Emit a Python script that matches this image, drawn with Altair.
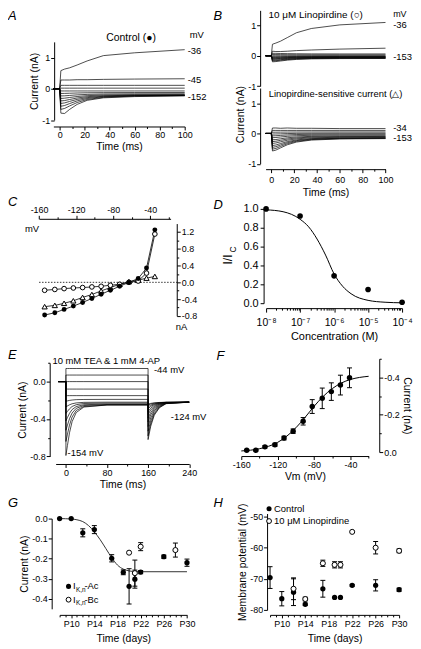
import altair as alt
import pandas as pd

FONT = "Liberation Sans"
ONE = pd.DataFrame({"k": [0]})

# ---------------- Panel A: control traces ----------------
A_PRE_T = [-5, 0]
A_T = [1, 4, 8, 14, 22, 35, 60, 100]
A_V = [-36, -45, -52, -62, -72, -82, -92, -102, -112, -122, -132, -142, -152]
A_I = [
    [0.58, 0.63, 0.67, 0.76, 0.89, 1.06, 1.15, 1.25],
    [0.28, 0.28, 0.28, 0.29, 0.29, 0.30, 0.31, 0.32],
    [0.11, 0.11, 0.11, 0.11, 0.11, 0.11, 0.11, 0.11],
    [0.02, 0.02, 0.02, 0.02, 0.02, 0.02, 0.02, 0.02],
    [-0.07, -0.07, -0.07, -0.07, -0.07, -0.07, -0.07, -0.07],
    [-0.15, -0.148, -0.143, -0.135, -0.128, -0.124, -0.121, -0.12],
    [-0.23, -0.225, -0.213, -0.195, -0.18, -0.168, -0.162, -0.16],
    [-0.31, -0.301, -0.279, -0.248, -0.22, -0.20, -0.189, -0.185],
    [-0.39, -0.377, -0.343, -0.295, -0.253, -0.223, -0.206, -0.20],
    [-0.47, -0.452, -0.405, -0.34, -0.283, -0.241, -0.218, -0.21],
    [-0.56, -0.536, -0.474, -0.388, -0.312, -0.256, -0.225, -0.215],
    [-0.66, -0.629, -0.55, -0.44, -0.343, -0.273, -0.233, -0.22],
    [-0.78, -0.79, -0.66, -0.50, -0.37, -0.29, -0.25, -0.225],
]

# ---------------- Panel B: linopirdine & difference traces ----------------
B_PRE_T = [-5, 0]
B_T = [1, 4, 8, 14, 22, 35, 60, 100]
B_TOP_V = [-36, -45, -52, -62, -72, -82, -92, -102, -112, -122, -132, -142, -153]
B_TOP_I = [
    [0.38, 0.42, 0.48, 0.60, 0.76, 0.90, 1.02, 1.10],
    [0.15, 0.14, 0.14, 0.15, 0.17, 0.19, 0.22, 0.25],
    [0.08, 0.08, 0.075, 0.07, 0.066, 0.062, 0.06, 0.06],
    [0.04, 0.04, 0.038, 0.035, 0.033, 0.031, 0.03, 0.03],
    [0.0, 0.0, 0.0, 0.0, 0.0, 0.0, 0.0, 0.0],
    [-0.03, -0.029, -0.028, -0.025, -0.023, -0.021, -0.02, -0.02],
    [-0.06, -0.058, -0.053, -0.045, -0.038, -0.034, -0.031, -0.03],
    [-0.08, -0.077, -0.07, -0.06, -0.051, -0.045, -0.041, -0.04],
    [-0.10, -0.097, -0.088, -0.075, -0.064, -0.056, -0.052, -0.05],
    [-0.12, -0.116, -0.105, -0.09, -0.077, -0.067, -0.062, -0.06],
    [-0.15, -0.144, -0.13, -0.11, -0.092, -0.08, -0.072, -0.07],
    [-0.17, -0.164, -0.148, -0.125, -0.105, -0.091, -0.083, -0.08],
    [-0.20, -0.192, -0.173, -0.145, -0.121, -0.103, -0.093, -0.09],
]
B_BOT_V = [-34, -45, -52, -62, -72, -82, -92, -102, -112, -122, -132, -142, -153]
B_BOT_I = [
    [0.18, 0.18, 0.17, 0.18, 0.17, 0.17, 0.16, 0.16],
    [0.10, 0.10, 0.10, 0.10, 0.10, 0.10, 0.10, 0.10],
    [0.04, 0.041, 0.043, 0.045, 0.047, 0.049, 0.05, 0.05],
    [-0.02, -0.018, -0.013, -0.005, 0.002, 0.006, 0.009, 0.01],
    [-0.08, -0.076, -0.065, -0.05, -0.037, -0.027, -0.022, -0.02],
    [-0.14, -0.134, -0.118, -0.095, -0.075, -0.061, -0.053, -0.05],
    [-0.21, -0.201, -0.178, -0.145, -0.116, -0.096, -0.084, -0.08],
    [-0.27, -0.258, -0.228, -0.185, -0.148, -0.12, -0.105, -0.10],
    [-0.33, -0.315, -0.278, -0.225, -0.179, -0.145, -0.126, -0.12],
    [-0.40, -0.382, -0.335, -0.27, -0.213, -0.171, -0.148, -0.14],
    [-0.46, -0.438, -0.383, -0.305, -0.237, -0.187, -0.159, -0.15],
    [-0.52, -0.495, -0.43, -0.34, -0.261, -0.203, -0.171, -0.16],
    [-0.58, -0.551, -0.478, -0.375, -0.285, -0.219, -0.182, -0.17],
]

# ---------------- Panel C: I-V ----------------
C_V = [-154, -143, -133, -123, -113, -103, -93, -83, -73, -63, -53, -44, -35]
C_CTRL = [-0.78, -0.725, -0.646, -0.567, -0.48, -0.385, -0.284, -0.189, -0.095, 0.0, 0.09, 0.34, 1.25]
C_LINO = [-0.19, -0.17, -0.15, -0.135, -0.125, -0.11, -0.095, -0.07, -0.047, 0.0, 0.03, 0.22, 1.15]
C_SENS = [-0.58, -0.55, -0.50, -0.44, -0.36, -0.29, -0.205, -0.125, -0.047, 0.016, 0.05, 0.10, 0.14]
C_ZERO_X = [-160, -11]

# ---------------- Panel D: dose response ----------------
D_C = [1e-8, 1e-7, 1e-6, 1e-5, 1e-4]
D_R = [1.0, 0.925, 0.29, 0.145, 0.01]
D_FIT_C = [1e-8, 3.16e-8, 1e-7, 1.78e-7, 3.16e-7, 5.62e-7, 1e-6, 1.78e-6, 3.16e-6, 1e-5, 3.16e-5, 1e-4]
D_FIT_R = [0.99, 0.97, 0.89, 0.81, 0.68, 0.51, 0.31, 0.18, 0.10, 0.03, 0.01, 0.004]

# ---------------- Panel E: TEA / 4-AP traces ----------------
E_PRE_T = [-15, 0]
E_STEP_T = [0, 3, 7, 12, 20, 35, 80, 160]
E_TAIL_T = [160, 165, 172, 182, 195, 240]
E_V = [-44, -54, -64, -74, -84, -94, -104, -114, -124, -134, -144, -154]
E_STEP = [
    [0.14, 0.14, 0.14, 0.14, 0.14, 0.14, 0.14, 0.14],
    [0.07, 0.07, 0.07, 0.07, 0.07, 0.07, 0.07, 0.07],
    [0.0, 0.0, 0.0, 0.0, 0.0, 0.0, 0.0, 0.0],
    [-0.08, -0.08, -0.08, -0.08, -0.08, -0.08, -0.08, -0.08],
    [-0.15, -0.15, -0.15, -0.15, -0.15, -0.15, -0.15, -0.15],
    [-0.21, -0.206, -0.201, -0.197, -0.193, -0.191, -0.19, -0.19],
    [-0.27, -0.26, -0.248, -0.237, -0.228, -0.222, -0.22, -0.22],
    [-0.34, -0.318, -0.291, -0.266, -0.247, -0.234, -0.23, -0.23],
    [-0.42, -0.384, -0.339, -0.299, -0.267, -0.247, -0.24, -0.24],
    [-0.52, -0.465, -0.396, -0.336, -0.286, -0.256, -0.245, -0.245],
    [-0.64, -0.562, -0.465, -0.379, -0.309, -0.266, -0.25, -0.25],
    [-0.79, -0.682, -0.547, -0.428, -0.331, -0.272, -0.25, -0.25],
]
E_TAIL = [
    [-0.62, -0.48, -0.36, -0.28, -0.236, -0.22],
    [-0.58, -0.454, -0.346, -0.274, -0.234, -0.22],
    [-0.53, -0.422, -0.329, -0.267, -0.232, -0.22],
    [-0.48, -0.389, -0.311, -0.259, -0.23, -0.22],
    [-0.43, -0.357, -0.294, -0.252, -0.228, -0.22],
    [-0.39, -0.331, -0.28, -0.246, -0.227, -0.22],
    [-0.35, -0.305, -0.266, -0.24, -0.225, -0.22],
    [-0.32, -0.285, -0.255, -0.235, -0.224, -0.22],
    [-0.29, -0.266, -0.245, -0.231, -0.223, -0.22],
    [-0.27, -0.253, -0.238, -0.228, -0.222, -0.22],
    [-0.25, -0.24, -0.231, -0.225, -0.221, -0.22],
    [-0.24, -0.233, -0.227, -0.223, -0.221, -0.22],
]

# ---------------- Panel F: activation ----------------
F_V = [-154, -144, -134, -123, -113, -103, -92, -82, -71, -61, -51, -41]
F_I = [-0.01, -0.01, -0.028, -0.039, -0.075, -0.112, -0.165, -0.244, -0.288, -0.324, -0.359, -0.398]
F_E = [0.004, 0.004, 0.006, 0.008, 0.01, 0.012, 0.02, 0.037, 0.055, 0.047, 0.053, 0.053]
F_FIT_V = [-160, -150, -140, -130, -120, -110, -100, -90, -80, -70, -60, -50, -40, -30, -20]
F_FIT_I = [-0.006, -0.01, -0.018, -0.031, -0.052, -0.085, -0.13, -0.185, -0.245, -0.298, -0.34, -0.37, -0.389, -0.40, -0.406]

# ---------------- Panel G: development of current ----------------
G_AC_D = [8, 10, 12, 14, 17, 19, 20, 21, 22, 26, 30]
G_AC_I = [0.0, 0.0, -0.071, -0.055, -0.198, -0.268, -0.338, -0.302, -0.267, -0.19, -0.22]
G_AC_E = [0, 0, 0.02, 0.02, 0.018, 0.012, 0.088, 0.045, 0.008, 0.008, 0.018]
G_BC_D = [20, 21, 22, 28]
G_BC_I = [-0.17, -0.272, -0.14, -0.157]
G_BC_E = [0, 0.065, 0.02, 0.035]
G_FIT_D = [8, 10, 11, 12, 13, 14, 15, 16, 17, 18, 19, 20, 21, 22, 30]
G_FIT_I = [0.0, -0.002, -0.006, -0.015, -0.035, -0.066, -0.105, -0.15, -0.195, -0.232, -0.252, -0.261, -0.264, -0.265, -0.265]

# ---------------- Panel H: membrane potential ----------------
H_C_D = [8, 10, 12, 14, 17, 19, 20, 22, 26, 30]
H_C_V = [-69.6, -76.4, -74.3, -78.2, -73.2, -76.0, -76.0, -72.1, -72.1, -73.5]
H_C_E = [3.5, 2.3, 4.3, 0.4, 2.7, 0, 0, 0.3, 1.8, 0.5]
H_L_D = [12, 14, 17, 19, 20, 22, 26, 30]
H_L_V = [-73.2, -76.5, -65.0, -65.5, -65.5, -54.9, -60.0, -61.0]
H_L_E = [3.5, 0.6, 1.0, 1.0, 1.0, 0, 2.0, 0.6]

MINUS = "replace(datum.label, '\u2212', '-')"


# ---------------- helpers ----------------
def traces(pre_t, pre_i, segs, volts):
    rows = []
    for n, v in enumerate(volts):
        pts = [(t, pre_i) for t in pre_t]
        for times, vals in segs:
            pts += list(zip(times, vals[n]))
        for k, (t, i) in enumerate(pts):
            rows.append({"sweep": v, "t": t, "i": i, "k": k})
    return pd.DataFrame(rows)


def errdf(x, y, e):
    df = pd.DataFrame({"x": x, "y": y, "e": e})
    df["lo"] = df["y"] - df["e"]
    df["hi"] = df["y"] + df["e"]
    return df


def sc(domain, rng, **kw):
    return alt.Scale(domain=domain, range=rng, nice=False, zero=False, **kw)


def axis(orient, offset, values, title=None, fmt=None, major=None, label=None, tmaj=3.5, tmin=2, **kw):
    expr = label if label else MINUS
    if major:
        expr = f"({major}) ? {expr} : ''"
    d = dict(orient=orient, offset=offset, values=values, labelExpr=expr, title=title)
    if major:
        d["tickSize"] = {"condition": {"test": major, "value": tmaj}, "value": tmin}
    else:
        d["tickSize"] = tmaj
    if fmt:
        d["format"] = fmt
    d.update(kw)
    return alt.Axis(**d)


def X(f, s, a):
    return alt.X(f"{f}:Q", scale=s, axis=a)


def Y(f, s, a):
    return alt.Y(f"{f}:Q", scale=s, axis=a)


def txt(s, x, y, size=9.5, align="left", baseline="middle", angle=None, style=None):
    kw = dict(align=align, baseline=baseline, fontSize=size, font=FONT, color="black")
    if angle is not None:
        kw["angle"] = angle
    if style:
        kw["fontStyle"] = style
    return alt.Chart(ONE).mark_text(**kw).encode(x=alt.value(x), y=alt.value(y), text=alt.value(s))


def letter(s, x, y):
    return txt(s, x, y, 13, baseline="top", style="italic")


def dot(x, y, filled=True, size=22):
    if filled:
        m = alt.Chart(ONE).mark_circle(size=size, color="black", opacity=1)
    else:
        m = alt.Chart(ONE).mark_point(shape="circle", filled=True, fill="white", stroke="black",
                                      strokeWidth=1, size=size, opacity=1)
    return m.encode(x=alt.value(x), y=alt.value(y))


def trace_layer(df, xs, ys, xa, ya):
    return alt.Chart(df).mark_line(color="black", strokeWidth=0.7).encode(
        x=X("t", xs, xa), y=Y("i", ys, ya), detail="sweep:N", order="k:Q")


def err_layers(df, xs, ys, xa, ya, cap=2.5):
    d = df[df["e"] > 0]
    out = [alt.Chart(d).mark_rule(color="black", strokeWidth=1).encode(
        x=X("x", xs, xa), y=Y("lo", ys, ya), y2="hi")]
    for c in ("lo", "hi"):
        out.append(alt.Chart(d).mark_rule(color="black", strokeWidth=1, xOffset=-cap, x2Offset=cap).encode(
            x=X("x", xs, xa), x2="x", y=Y(c, ys, ya)))
    return out


def filled_pts(df, xs, ys, xa, ya, size=26):
    return alt.Chart(df).mark_circle(size=size, color="black", opacity=1).encode(
        x=X("x", xs, xa), y=Y("y", ys, ya))


def open_pts(df, xs, ys, xa, ya, size=24, shape="circle"):
    return alt.Chart(df).mark_point(shape=shape, filled=True, fill="white", stroke="black",
                                    strokeWidth=1, size=size, opacity=1).encode(
        x=X("x", xs, xa), y=Y("y", ys, ya))


TIME_TICKS = [0, 10, 20, 30, 40, 50, 60, 70, 80, 90, 100]

# ---------------- Panel A ----------------
xsA = sc([-5, 100], [45.7, 178])
ysA = sc([-1, 1.5], [110.5, 31.75])
axA = axis("bottom", -70, TIME_TICKS, title="Time (ms)", major="datum.value % 20 == 0")
ayA = axis("left", -46.5, [-1, 0, 1], title="Current (nA)")
dfA = traces(A_PRE_T, 0.0, [(A_T, A_I)], A_V)
panelA = alt.layer(
    trace_layer(dfA, xsA, ysA, axA, ayA),
    letter("A", 0, 0),
    txt("Control (\u25cf)", 124, 28, 10.5, align="center"),
    txt("mV", 183, 25), txt("-36", 181, 41), txt("-45", 181, 70), txt("-152", 181, 87),
).properties(width=205, height=187)

# ---------------- Panel B ----------------
xsB = sc([-5, 100], [54.5, 175.3])
ysBt = sc([-1, 1.5], [76.25, 0])
ysBb = sc([-1, 1.5], [154.5, 78.25])
axB = axis("bottom", -27, TIME_TICKS, title="Time (ms)", major="datum.value % 20 == 0",
           labelPadding=3, titlePadding=3)
ayBt = axis("left", -49, [-1, 0, 1])
ayBb = axis("left", -49, [-1, 0, 1])
dfBt = traces(B_PRE_T, 0.0, [(B_T, B_TOP_I)], B_TOP_V)
dfBb = traces(B_PRE_T, 0.0, [(B_T, B_BOT_I)], B_BOT_V)
panelB = alt.layer(
    trace_layer(dfBt, xsB, ysBt, axB, ayBt),
    trace_layer(dfBb, xsB, ysBb, axB, ayBb),
    letter("B", 2, 0),
    txt("10 \u03bcM Linopirdine (\u25cb)", 105, 0, 10, align="center", baseline="top"),
    txt("mV", 183, 0, 9, baseline="top"), txt("-36", 183, 15), txt("-153", 183, 47),
    txt("Linopirdine-sensitive current (\u25b3)", 125, 84, 9.5, align="center"),
    txt("-34", 183, 119), txt("-153", 183, 129),
    txt("Current (nA)", 30, 105, 10.5, align="center", angle=270),
).resolve_scale(y="independent").properties(width=200, height=187)

# ---------------- Panel C ----------------
xsC = sc([-160, -18], [31.3, 163.8])
ysC = sc([-0.8, 1.4], [120.8, 27.8])
axC = axis("top", -23, [-160, -140, -120, -100, -80, -60, -40, -20], major="datum.value % 40 == 0")
ayC = axis("right", -35, [-0.8, -0.6, -0.4, -0.2, 0.0, 0.2, 0.4, 0.6, 0.8, 1.0, 1.2], fmt=".1f",
           major="abs(round(datum.value * 10)) % 4 == 0")
dfC = pd.DataFrame({"x": C_V, "ctrl": C_CTRL, "lino": C_LINO, "sens": C_SENS})
dfCz = pd.DataFrame({"x": [C_ZERO_X[0]], "x2": [C_ZERO_X[1]], "y": [0.0]})
c_layers = [alt.Chart(dfCz).mark_rule(color="black", strokeWidth=0.8, strokeDash=[1.5, 1.5]).encode(
    x=X("x", xsC, axC), x2="x2", y=Y("y", ysC, ayC))]
for col in ("sens", "lino", "ctrl"):
    c_layers.append(alt.Chart(dfC).mark_line(color="black", strokeWidth=0.8).encode(
        x=X("x", xsC, axC), y=Y(col, ysC, ayC)))
c_layers.append(open_pts(dfC.rename(columns={"sens": "y"}), xsC, ysC, axC, ayC, size=28, shape="triangle-up"))
c_layers.append(open_pts(dfC.rename(columns={"lino": "y"}), xsC, ysC, axC, ayC, size=22))
c_layers.append(filled_pts(dfC.rename(columns={"ctrl": "y"}), xsC, ysC, axC, ayC, size=24))
panelC = alt.layer(
    *c_layers,
    letter("C", 0, 0),
    txt("mV", 17, 33), txt("nA", 169, 132),
).properties(width=205, height=145)

# ---------------- Panel D ----------------
xsD = sc([1e-8, 1e-4], [55, 192], type="log")
ysD = sc([0, 1.0], [108, 13])
D_TICKS = [m * 10.0 ** e for e in (-8, -7, -6, -5) for m in range(1, 10)] + [1e-4]
dmaj = "abs(log(datum.value) / LN10 - round(log(datum.value) / LN10)) < 0.001"
sup = "['\u2070','\u00b9','\u00b2','\u00b3','\u2074','\u2075','\u2076','\u2077','\u2078','\u2079']"
axD = axis("bottom", -32, D_TICKS, title="Concentration (M)", major=dmaj,
           label=f"'10\u207b' + {sup}[-round(log(datum.value) / LN10)]", tmaj=4, tmin=2,
           labelPadding=5, titlePadding=3, labelFontSize=10.5, titleFontSize=11)
ayD = axis("left", -52.5, [0, 0.2, 0.4, 0.6, 0.8, 1.0], fmt=".1f", labelFontSize=11, labelPadding=2)
dfDfit = pd.DataFrame({"x": D_FIT_C, "y": D_FIT_R})
dfD = pd.DataFrame({"x": D_C, "y": D_R})
panelD = alt.layer(
    alt.Chart(dfDfit).mark_line(color="black", strokeWidth=1, interpolate="monotone").encode(
        x=X("x", xsD, axD), y=Y("y", ysD, ayD)),
    filled_pts(dfD, xsD, ysD, axD, ayD, size=32),
    letter("D", 2, 3),
    txt("I/I", 17, 64, 12, align="center", angle=270),
    txt("C", 22, 54, 8.5, align="center", angle=270),
).properties(width=200, height=145)

# ---------------- Panel E ----------------
xsE = sc([-20, 240], [48, 182.5])
ysE = sc([-0.8, 0.2], [117.4, 23.15])
axE = axis("bottom", -25, [0, 40, 80, 120, 160, 200, 240], title="Time (ms)", major="datum.value % 80 == 0")
ayE = axis("left", -42, [0.2, 0.0, -0.2, -0.4, -0.6, -0.8], title="Current (nA)", fmt=".1f",
           major="abs(round(datum.value * 10)) % 4 == 0")
dfE = traces(E_PRE_T, 0.0, [(E_STEP_T, E_STEP), (E_TAIL_T, E_TAIL)], E_V)
panelE = alt.layer(
    trace_layer(dfE, xsE, ysE, axE, ayE),
    letter("E", 0, 9),
    txt("10 mM TEA & 1 mM 4-AP", 99, 21, 9.5, align="center"),
    txt("-44 mV", 147, 30), txt("-124 mV", 164, 78), txt("-154 mV", 60, 114),
).properties(width=205, height=150)

# ---------------- Panel F ----------------
xsF = sc([-160, -20], [30, 158.3])
ysF = sc([-0.5, 0.0], [19, 113])
axF = axis("bottom", -33, [-160, -140, -120, -100, -80, -60, -40, -20], title="Vm (mV)",
           major="datum.value % 40 == 0")
ayF = axis("right", -31, [-0.5, -0.4, -0.3, -0.2, -0.1, 0.0], title="Current (nA)", fmt=".1f",
           major="round(datum.value * 10) % 2 == 0")
dfF = errdf(F_V, F_I, F_E)
dfFfit = pd.DataFrame({"x": F_FIT_V, "y": F_FIT_I})
panelF = alt.layer(
    alt.Chart(dfFfit).mark_line(color="black", strokeWidth=1, interpolate="monotone").encode(
        x=X("x", xsF, axF), y=Y("y", ysF, ayF)),
    *err_layers(dfF, xsF, ysF, axF, ayF),
    filled_pts(dfF, xsF, ysF, axF, ayF, size=30),
    letter("F", 5, 10),
).properties(width=200, height=150)

# ---------------- Panel G ----------------
DAYS = list(range(8, 31))
pmaj = "(datum.value - 10) % 4 == 0 && datum.value >= 10"
xsG = sc([8, 30], [52, 180.3])
ysG = sc([-0.45, 0.0], [120.9, 30])
axG = axis("bottom", -23, DAYS, title="Time (days)", major=pmaj, label="'P' + datum.value", tmaj=3, tmin=2,
           labelPadding=2, titlePadding=5)
ayG = axis("left", -44, [0.0, -0.1, -0.2, -0.3, -0.4], title="Current (nA)", fmt=".1f")
dfGa = errdf(G_AC_D, G_AC_I, G_AC_E)
dfGb = errdf(G_BC_D, G_BC_I, G_BC_E)
dfGfit = pd.DataFrame({"x": G_FIT_D, "y": G_FIT_I})
panelG = alt.layer(
    alt.Chart(dfGfit).mark_line(color="#333333", strokeWidth=1, interpolate="monotone").encode(
        x=X("x", xsG, axG), y=Y("y", ysG, ayG)),
    *err_layers(dfGa, xsG, ysG, axG, ayG),
    *err_layers(dfGb, xsG, ysG, axG, ayG),
    filled_pts(dfGa, xsG, ysG, axG, ayG, size=28),
    open_pts(dfGb, xsG, ysG, axG, ayG, size=26),
    letter("G", 0, 8),
    dot(61, 98.3, True, 26), txt("I", 65.5, 98.3, 9.5), txt("K,n", 68.5, 101.5, 6.5), txt("-Ac", 77, 98.3, 9.5),
    dot(61, 111.7, False, 24), txt("I", 65.5, 111.7, 9.5), txt("K,n", 68.5, 115, 6.5), txt("-Bc", 77, 111.7, 9.5),
).properties(width=205, height=150)

# ---------------- Panel H ----------------
xsH = sc([8, 30], [59, 189])
ysH = sc([-80, -49], [122, 24.9])
axH = axis("bottom", -23, DAYS, title="Time (days)", major=pmaj, label="'P' + datum.value", tmaj=3, tmin=2,
           labelPadding=2, titlePadding=5)
ayH = axis("left", -56, [-80, -70, -60, -50], title="Membrane potential (mV)")
dfHc = errdf(H_C_D, H_C_V, H_C_E)
dfHl = errdf(H_L_D, H_L_V, H_L_E)
panelH = alt.layer(
    *err_layers(dfHc, xsH, ysH, axH, ayH),
    *err_layers(dfHl, xsH, ysH, axH, ayH),
    filled_pts(dfHc, xsH, ysH, axH, ayH, size=28),
    open_pts(dfHl, xsH, ysH, axH, ayH, size=26),
    letter("H", 2, 8),
    dot(58, 20, True, 26), txt("Control", 63, 20, 9.5),
    dot(58, 32.5, False, 24), txt("10 \u03bcM Linopirdine", 63, 32.5, 9.5),
).properties(width=200, height=150)

chart = alt.concat(
    panelA, panelB, panelC, panelD, panelE, panelF, panelG, panelH,
    columns=2, spacing=0, bounds="flush", align="each",
).configure_view(stroke=None).configure_axis(
    labelFont=FONT, labelFontSize=9, labelColor="black",
    titleFont=FONT, titleFontSize=10.5, titleFontWeight="normal", titleColor="black",
    domainColor="black", tickColor="black", domainWidth=1, tickWidth=1,
    grid=False, labelPadding=1, titlePadding=2, labelFlush=False, labelOverlap=False,
).configure_text(font=FONT).properties(padding=0)

chart.save("out.html", embed_options={"renderer": "svg", "actions": False})
